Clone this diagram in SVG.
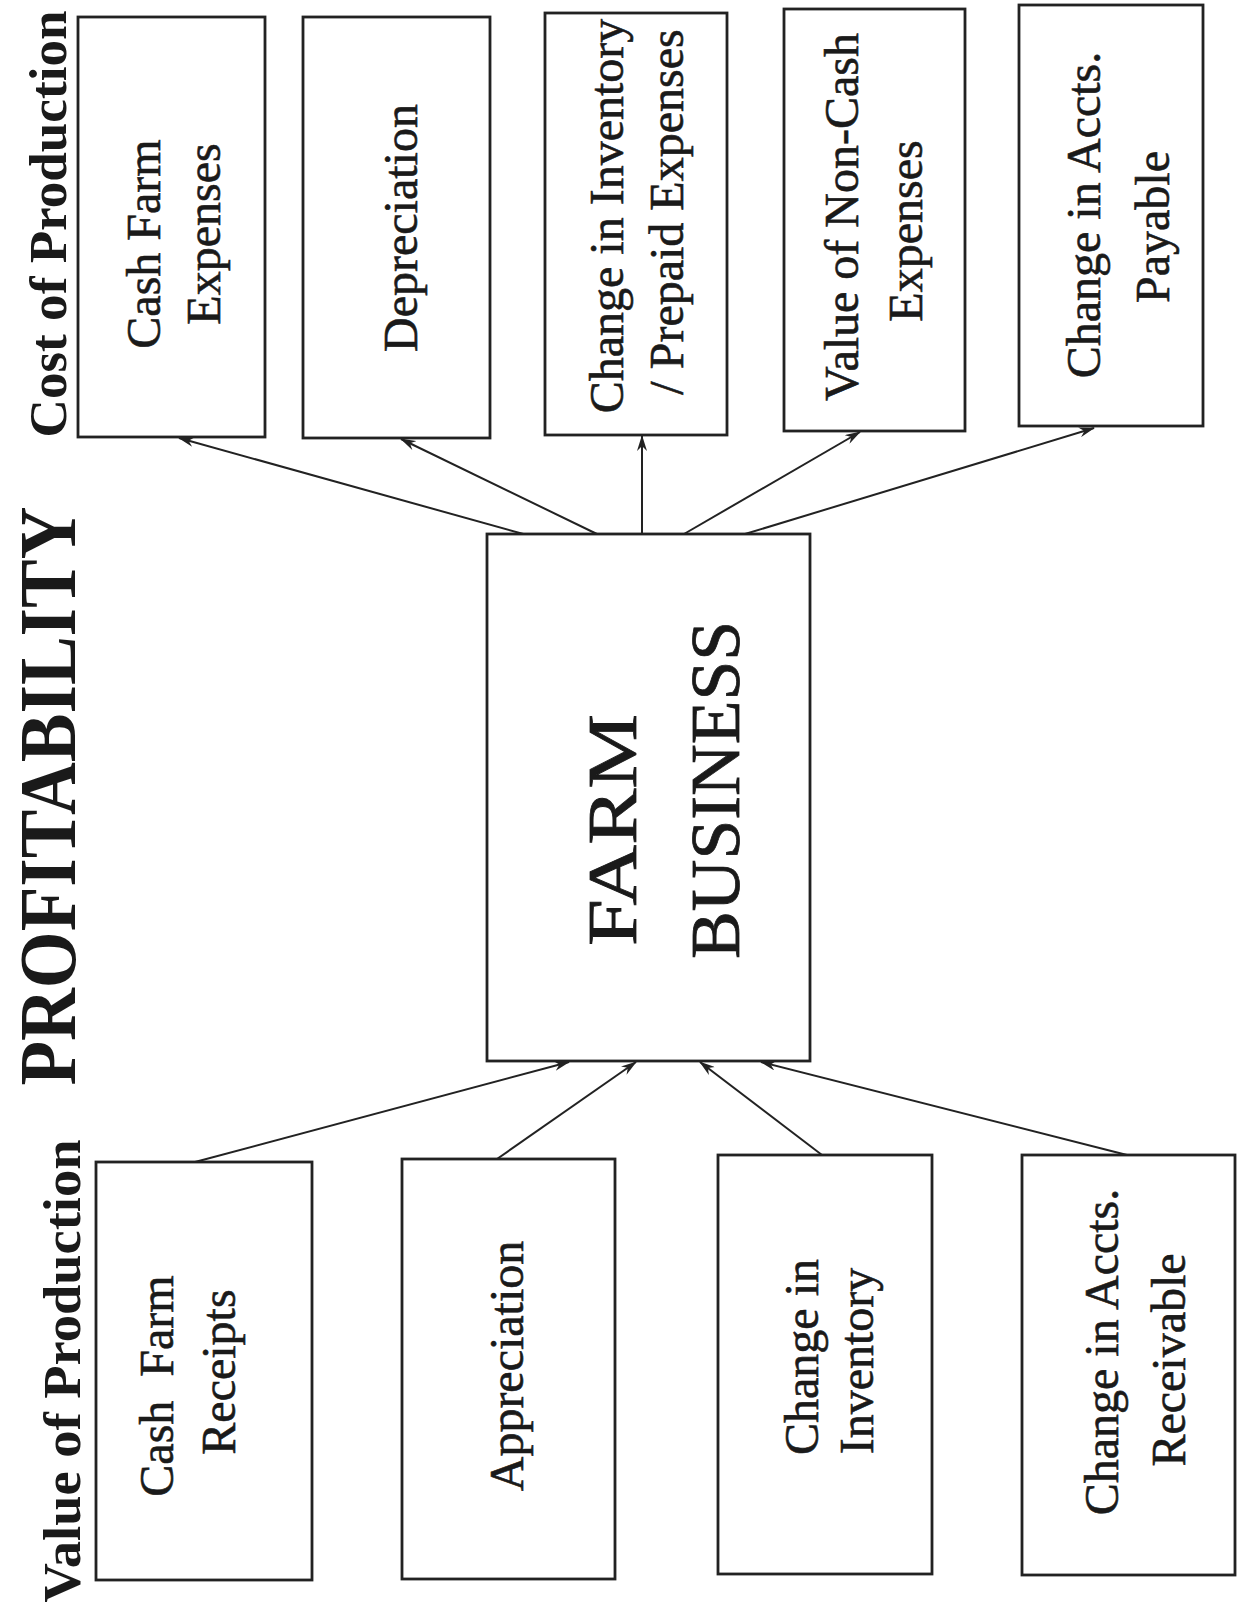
<svg xmlns="http://www.w3.org/2000/svg" width="1237" height="1610" viewBox="0 0 1237 1610">
<defs>
<style>
.box{fill:#fff;stroke:#222;stroke-width:2.8}
.lbl{font-family:"Liberation Serif","Times New Roman",serif;font-size:48px;fill:#1a1a1a;stroke:#1a1a1a;stroke-width:0.6;text-anchor:middle}
.hdr{font-family:"Liberation Serif","Times New Roman",serif;font-weight:bold;fill:#1a1a1a;text-anchor:middle}
.big{font-family:"Liberation Serif","Times New Roman",serif;font-size:70px;fill:#1a1a1a;stroke:#1a1a1a;stroke-width:0.8;text-anchor:middle}
.conn{stroke:#222;stroke-width:2;fill:none;marker-end:url(#arr)}
</style>
<marker id="arr" viewBox="0 0 16 10" refX="15" refY="5" markerWidth="16" markerHeight="10" markerUnits="userSpaceOnUse" orient="auto">
<path d="M0,0 L16,5 L0,10 L5,5 Z" fill="#222"/>
</marker>
</defs>
<rect width="1237" height="1610" fill="#fff"/>

<g id="titles">
<text class="hdr" font-size="53" textLength="427" lengthAdjust="spacingAndGlyphs" transform="translate(66,224) rotate(-90)">Cost of Production</text>
<text class="hdr" font-size="80" textLength="579" lengthAdjust="spacingAndGlyphs" transform="translate(75,796) rotate(-90)">PROFITABILITY</text>
<text class="hdr" font-size="53" textLength="463" lengthAdjust="spacingAndGlyphs" transform="translate(80,1371) rotate(-90)">Value of Production</text>
</g>

<g id="connectors">
<line class="conn" x1="527" y1="535" x2="179" y2="438"/>
<line class="conn" x1="599" y1="535" x2="401" y2="439"/>
<line class="conn" x1="642" y1="535" x2="642" y2="436"/>
<line class="conn" x1="684" y1="534" x2="860" y2="432"/>
<line class="conn" x1="745" y1="534" x2="1094" y2="428"/>
<line class="conn" x1="195" y1="1162" x2="569" y2="1062"/>
<line class="conn" x1="497" y1="1159" x2="636" y2="1062"/>
<line class="conn" x1="822" y1="1155" x2="700" y2="1062"/>
<line class="conn" x1="1127" y1="1155" x2="761" y2="1062"/>
</g>

<g id="cash-farm-expenses">
<rect class="box" x="78" y="17" width="187" height="420"/>
<text class="lbl" transform="translate(160,244) rotate(-90)">Cash Farm</text>
<text class="lbl" transform="translate(220,234) rotate(-90)">Expenses</text>
</g>
<g id="depreciation">
<rect class="box" x="303" y="17" width="187" height="421"/>
<text class="lbl" transform="translate(417,228) rotate(-90)">Depreciation</text>
</g>
<g id="change-inventory-prepaid">
<rect class="box" x="545" y="13" width="182" height="422"/>
<text class="lbl" transform="translate(623,216) rotate(-90)">Change in Inventory</text>
<text class="lbl" transform="translate(683,212) rotate(-90)">/ Prepaid Expenses</text>
</g>
<g id="value-non-cash">
<rect class="box" x="784" y="9" width="181" height="422"/>
<text class="lbl" transform="translate(858,217) rotate(-90)">Value of Non-Cash</text>
<text class="lbl" transform="translate(922,231) rotate(-90)">Expenses</text>
</g>
<g id="change-accts-payable">
<rect class="box" x="1019" y="5" width="184" height="421"/>
<text class="lbl" transform="translate(1100,215) rotate(-90)">Change in Accts.</text>
<text class="lbl" transform="translate(1169,227) rotate(-90)">Payable</text>
</g>

<g id="farm-business">
<rect class="box" x="487" y="534" width="323" height="527"/>
<text class="big" textLength="232" lengthAdjust="spacingAndGlyphs" transform="translate(636,830) rotate(-90)">FARM</text>
<text class="big" textLength="338" lengthAdjust="spacingAndGlyphs" transform="translate(739,790) rotate(-90)">BUSINESS</text>
</g>

<g id="cash-farm-receipts">
<rect class="box" x="96" y="1162" width="216" height="418"/>
<text class="lbl" xml:space="preserve" style="white-space:pre" transform="translate(173,1386) rotate(-90)">Cash  Farm</text>
<text class="lbl" transform="translate(235,1372) rotate(-90)">Receipts</text>
</g>
<g id="appreciation">
<rect class="box" x="402" y="1159" width="213" height="420"/>
<text class="lbl" transform="translate(523,1366) rotate(-90)">Appreciation</text>
</g>
<g id="change-inventory">
<rect class="box" x="718" y="1155" width="214" height="419"/>
<text class="lbl" transform="translate(818,1357) rotate(-90)">Change in</text>
<text class="lbl" transform="translate(873,1361) rotate(-90)">Inventory</text>
</g>
<g id="change-accts-receivable">
<rect class="box" x="1022" y="1155" width="213" height="420"/>
<text class="lbl" transform="translate(1118,1352) rotate(-90)">Change in Accts.</text>
<text class="lbl" transform="translate(1185,1360) rotate(-90)">Receivable</text>
</g>
</svg>
